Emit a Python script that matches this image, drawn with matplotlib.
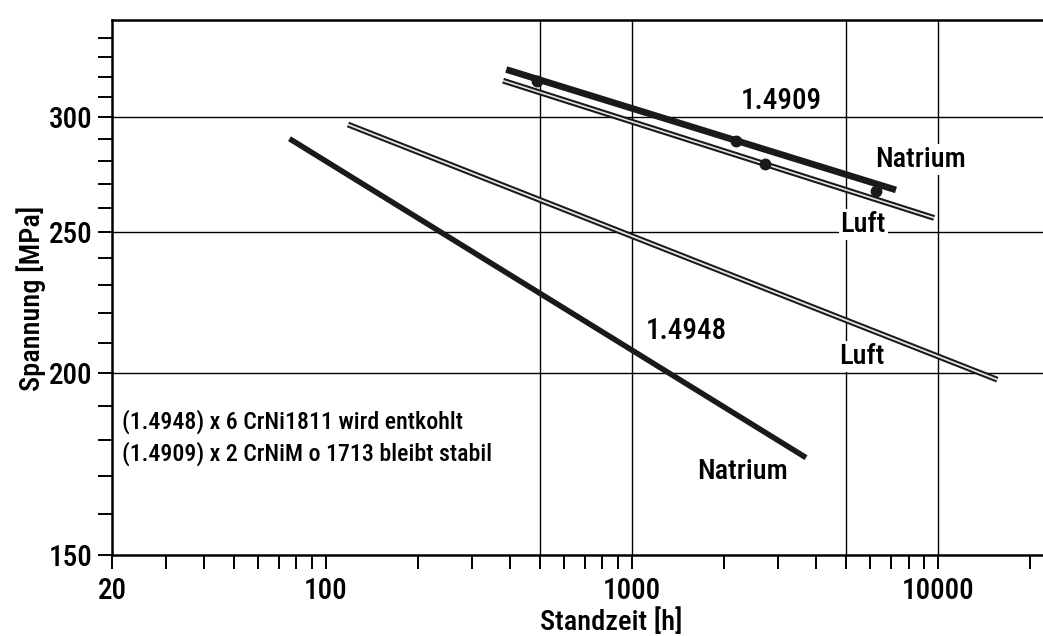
import matplotlib
matplotlib.use("Agg")
import matplotlib.pyplot as plt
from matplotlib import font_manager
from matplotlib.ticker import FixedLocator, FixedFormatter, NullFormatter


def schmale_schrift():
    """Erste installierte schmale Grotesk suchen, sonst Roboto."""
    bevorzugt = ["Liberation Sans Narrow", "Roboto Condensed", "Noto Sans Condensed",
                 "Noto Sans", "Open Sans Condensed", "Open Sans", "DejaVu Sans"]
    gefunden = {}
    for f in font_manager.fontManager.ttflist:
        if f.style != "normal" or f.weight not in (400, "normal", "regular"):
            continue
        schmal = f.stretch in ("condensed", "semi-condensed") or "Narrow" in f.name \
            or "Condensed" in f.name
        if schmal:
            gefunden.setdefault(f.name, f.stretch)
    for name in bevorzugt:
        if name in gefunden:
            return name, gefunden[name]
    return "Roboto", "normal"


schrift, breite = schmale_schrift()
plt.rcParams["font.family"] = [schrift, "DejaVu Sans"]
plt.rcParams["font.stretch"] = breite
plt.rcParams["font.weight"] = "medium"
plt.rcParams["axes.labelweight"] = "medium"

# Zeitstandgeraden: Standzeit [h] / Spannung [MPa], jeweils Anfang und Ende
t_4948_na = [76, 3700]
s_4948_na = [290, 175]
t_4948_luft = [118, 15600]
s_4948_luft = [296.6, 198]
t_4909_na = [388, 7280]
s_4909_na = [323.6, 267.4]
t_4909_luft = [379, 9700]
s_4909_luft = [317.9, 255.8]

# Messpunkte 1.4909
t_pkt_na = [489, 2190, 6270]
s_pkt_na = [317.9, 289.1, 266.8]
t_pkt_luft = [2720]
s_pkt_luft = [278.4]

x_ticks = [20, 100, 1000, 10000]
x_ticklabels = ["20", "100", "1000", "10000"]
y_ticks = [150, 200, 250, 300]
y_ticklabels = ["150", "200", "250", "300"]
x_grid = [500, 1000, 5000, 10000]
y_grid = [200, 250, 300]

fig = plt.figure(figsize=(10.43, 6.36), dpi=100)
ax = fig.add_axes([0.1074, 0.1274, 0.8926, 0.8412])
ax.set_xscale("log")
ax.set_yscale("log")
ax.set_xlim(20, 22000)
ax.set_ylim(150, 350)

# Gitter nur an ausgewählten Stellen
for g in y_grid:
    ax.axhline(g, color="black", lw=1.0, zorder=1)
for g in x_grid:
    ax.axvline(g, color="black", lw=1.0, zorder=1)

# Natrium: volle schwarze Linie, Luft: Doppellinie (hell gefüllt)
ax.plot(t_4948_na, s_4948_na, color="#1a1a1a", lw=4.0, solid_capstyle="butt", zorder=3)
ax.plot(t_4948_luft, s_4948_luft, color="#1a1a1a", lw=4.2, solid_capstyle="butt", zorder=3)
ax.plot(t_4948_luft, s_4948_luft, color="#e6e6e6", lw=1.3, solid_capstyle="butt", zorder=4)
ax.plot(t_4909_na, s_4909_na, color="#1a1a1a", lw=4.8, solid_capstyle="butt", zorder=3)
ax.plot(t_4909_luft, s_4909_luft, color="#1a1a1a", lw=4.2, solid_capstyle="butt", zorder=3)
ax.plot(t_4909_luft, s_4909_luft, color="#e6e6e6", lw=1.2, solid_capstyle="butt", zorder=4)

ax.plot(t_pkt_na, s_pkt_na, "o", color="#1a1a1a", ms=7.5, zorder=5)
ax.plot(t_pkt_luft, s_pkt_luft, "o", color="#1a1a1a", ms=7.5, zorder=5)

box = dict(facecolor="white", edgecolor="none", pad=1.5)
ax.text(3070, 308, "1.4909", fontsize=21, ha="center", va="center", zorder=6)
ax.text(8730, 280.5, "Natrium", fontsize=20.5, ha="center", va="center", bbox=box, zorder=6)
ax.text(5690, 253.3, "Luft", fontsize=20.5, ha="center", va="center", bbox=box, zorder=6)
ax.text(1500, 213.8, "1.4948", fontsize=21, ha="center", va="center", zorder=6)
ax.text(5640, 205.4, "Luft", fontsize=20.5, ha="center", va="center", bbox=box, zorder=6)
ax.text(2290, 171.2, "Natrium", fontsize=20.5, ha="center", va="center", zorder=6)

ax.text(0.011, 0.250, "(1.4948) x 6 CrNi1811 wird entkohlt", fontsize=17.2,
        ha="left", va="center", transform=ax.transAxes)
ax.text(0.011, 0.190, "(1.4909) x 2 CrNiM o 1713 bleibt stabil", fontsize=17.2,
        ha="left", va="center", transform=ax.transAxes)

# Achsen und Teilung
ax.xaxis.set_major_locator(FixedLocator(x_ticks))
ax.xaxis.set_major_formatter(FixedFormatter(x_ticklabels))
ax.xaxis.set_minor_locator(FixedLocator(
    [m * d for d in (10, 100, 1000, 10000) for m in range(2, 10) if 20 < m * d < 22000]))
ax.xaxis.set_minor_formatter(NullFormatter())
ax.yaxis.set_major_locator(FixedLocator(y_ticks))
ax.yaxis.set_major_formatter(FixedFormatter(y_ticklabels))
ax.yaxis.set_minor_locator(FixedLocator([v for v in range(160, 350, 10) if v not in y_ticks]))
ax.yaxis.set_minor_formatter(NullFormatter())

ax.tick_params(which="both", direction="out", length=10, width=1.4, labelsize=21)
ax.tick_params(axis="x", pad=6)
ax.tick_params(axis="y", pad=4)

ax.spines["right"].set_visible(False)
for s in ("top", "left", "bottom"):
    ax.spines[s].set_linewidth(1.8)

ax.set_xlabel("Standzeit [h]", fontsize=20.5)
ax.xaxis.set_label_coords(0.536, -0.100)
ax.set_ylabel("Spannung [MPa]", fontsize=20.5)
ax.yaxis.set_label_coords(-0.071, 0.480)

fig.savefig("out.png", dpi=100)
